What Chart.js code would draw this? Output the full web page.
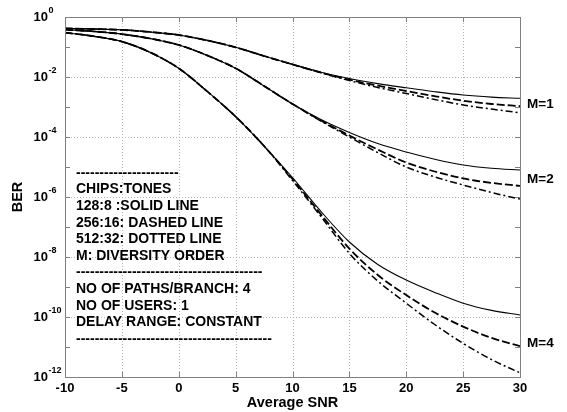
<!DOCTYPE html>
<html>
<head>
<meta charset="utf-8">
<script src="https://cdn.jsdelivr.net/npm/chart.js@4"></script>
<style>
  html, body { margin: 0; padding: 0; background: #fff; }
  #wrap { width: 567px; height: 412px; }
</style>
</head>
<body>
<div id="wrap"><canvas id="ber-chart"></canvas></div>
<script>
// SNR points (dB)
const snr = [-10, -7.5, -5, -2.5, 0, 2.5, 5, 7.5, 10, 12.5, 15, 17.5, 20, 22.5, 25, 27.5, 30];

// M=1
const m1Solid   = [0.417, 0.398, 0.372, 0.316, 0.251, 0.166, 0.0977, 0.0501, 0.0263, 0.0145, 0.00891, 0.00603, 0.00437, 0.00324, 0.00251, 0.00214, 0.00195];
const m1Dashed  = [0.417, 0.398, 0.372, 0.316, 0.251, 0.166, 0.0977, 0.0501, 0.0263, 0.0141, 0.00813, 0.00513, 0.00339, 0.00229, 0.00162, 0.00126, 0.00107];
const m1Dotted  = [0.417, 0.398, 0.372, 0.316, 0.251, 0.166, 0.0977, 0.0501, 0.0263, 0.0138, 0.00759, 0.00447, 0.00282, 0.00178, 0.00117, 0.000851, 0.000646];
// M=2
const m2Solid   = [0.380, 0.331, 0.269, 0.191, 0.117, 0.0525, 0.0195, 0.00501, 0.00126, 3.80e-4, 1.41e-4, 6.03e-5, 3.16e-5, 1.82e-5, 1.17e-5, 9.12e-6, 7.94e-6];
const m2Dashed  = [0.380, 0.331, 0.269, 0.191, 0.117, 0.0525, 0.0195, 0.00501, 0.00126, 3.55e-4, 1.12e-4, 3.80e-5, 1.41e-5, 7.08e-6, 4.17e-6, 2.95e-6, 2.34e-6];
const m2Dotted  = [0.380, 0.331, 0.269, 0.191, 0.117, 0.0525, 0.0195, 0.00501, 0.00126, 3.39e-4, 1.00e-4, 3.02e-5, 1.00e-5, 4.68e-6, 2.51e-6, 1.41e-6, 8.51e-7];
// M=4
const m4Solid   = [0.302, 0.229, 0.151, 0.0661, 0.0195, 0.00331, 4.79e-4, 5.01e-5, 4.47e-6, 3.31e-7, 3.16e-8, 5.62e-9, 1.70e-9, 6.61e-10, 2.88e-10, 1.66e-10, 1.17e-10];
const m4Dashed  = [0.302, 0.229, 0.151, 0.0661, 0.0195, 0.00331, 4.79e-4, 5.01e-5, 3.98e-6, 2.63e-7, 1.91e-8, 2.51e-9, 5.37e-10, 1.41e-10, 4.79e-11, 2.00e-11, 1.07e-11];
const m4Dotted  = [0.302, 0.229, 0.151, 0.0661, 0.0195, 0.00331, 4.79e-4, 5.01e-5, 3.55e-6, 2.24e-7, 1.32e-8, 1.58e-9, 2.88e-10, 5.62e-11, 1.32e-11, 3.80e-12, 1.38e-12];

const xTicks = [-10, -5, 0, 5, 10, 15, 20, 25, 30];
const yTickExps = [0, -1, -2, -3, -4, -5, -6, -7, -8, -9, -10, -11, -12];
const yLabelExps = [0, -2, -4, -6, -8, -10, -12];

const curveLabels = ['M=1', 'M=2', 'M=4'];
const curveLabelAt = [1.2e-3, 4.0e-6, 1.3e-11];

const noteLines = [
    '----------------------',
    'CHIPS:TONES',
    '128:8 :SOLID LINE',
    '256:16: DASHED LINE',
    '512:32: DOTTED LINE',
    'M: DIVERSITY ORDER',
    '----------------------------------------',
    'NO OF PATHS/BRANCH: 4',
    'NO OF USERS: 1',
    'DELAY RANGE: CONSTANT',
    '------------------------------------------'
];

const FONT = '"Liberation Sans", Arial, sans-serif';

function pts(arr) {
    return snr.map((x, i) => ({x: x, y: arr[i]}));
}

function line(arr, dash, width) {
    return {
        data: pts(arr),
        borderColor: '#000',
        borderWidth: width,
        borderDash: dash,
        pointRadius: 0,
        fill: false,
        cubicInterpolationMode: 'monotone'
    };
}

const solidW = 1.1, dashW = 1.8, dotW = 1.5;
const DASH = [8, 3], DOTDASH = [7, 3, 2, 3];

const decorations = {
    id: 'decorations',
    beforeDatasetsDraw(chart) {
        const {ctx, chartArea: a, scales: {x, y}} = chart;
        ctx.save();
        ctx.strokeStyle = '#b4b4b4';
        ctx.lineWidth = 1;
        ctx.setLineDash([1, 2]);
        xTicks.slice(1, -1).forEach((v) => {
            const px = Math.round(x.getPixelForValue(v)) + 0.5;
            ctx.beginPath();
            ctx.moveTo(px, a.top);
            ctx.lineTo(px, a.bottom);
            ctx.stroke();
        });
        yLabelExps.slice(1, -1).forEach((e) => {
            const py = Math.round(y.getPixelForValue(Math.pow(10, e))) + 0.5;
            ctx.beginPath();
            ctx.moveTo(a.left, py);
            ctx.lineTo(a.right, py);
            ctx.stroke();
        });
        ctx.restore();
    },
    afterDatasetsDraw(chart) {
        const {ctx, chartArea: a, scales: {x, y}} = chart;
        ctx.save();
        // frame
        ctx.strokeStyle = '#808080';
        ctx.lineWidth = 1;
        ctx.strokeRect(Math.round(a.left) + 0.5, Math.round(a.top) + 0.5,
            Math.round(a.right - a.left), Math.round(a.bottom - a.top));
        // inward ticks
        const tl = 5;
        ctx.beginPath();
        xTicks.forEach((v) => {
            const px = Math.round(x.getPixelForValue(v)) + 0.5;
            ctx.moveTo(px, a.bottom); ctx.lineTo(px, a.bottom - tl);
            ctx.moveTo(px, a.top); ctx.lineTo(px, a.top + tl);
        });
        yTickExps.forEach((e) => {
            const py = Math.round(y.getPixelForValue(Math.pow(10, e))) + 0.5;
            ctx.moveTo(a.left, py); ctx.lineTo(a.left + tl, py);
            ctx.moveTo(a.right, py); ctx.lineTo(a.right - tl, py);
        });
        ctx.stroke();

        ctx.fillStyle = '#000';
        // x tick labels
        ctx.font = 'bold 13px ' + FONT;
        ctx.textAlign = 'center';
        ctx.textBaseline = 'middle';
        xTicks.forEach((v) => {
            ctx.fillText(String(v), x.getPixelForValue(v), a.bottom + 11);
        });
        // y tick labels 10^e
        yLabelExps.forEach((e) => {
            const py = y.getPixelForValue(Math.pow(10, e));
            ctx.font = 'bold 13px ' + FONT;
            ctx.textAlign = 'right';
            ctx.fillText('10', a.left - 17, py);
            ctx.font = 'bold 9px ' + FONT;
            ctx.textAlign = 'left';
            ctx.fillText(String(e), a.left - 16.5, py - 6.5);
        });
        // axis titles
        ctx.font = 'bold 14.5px ' + FONT;
        ctx.textAlign = 'center';
        ctx.fillText('Average SNR', (a.left + a.right) / 2, a.bottom + 26);
        ctx.save();
        ctx.translate(18, (a.top + a.bottom) / 2);
        ctx.rotate(-Math.PI / 2);
        ctx.fillText('BER', 0, 0);
        ctx.restore();
        // curve labels
        ctx.font = 'bold 13.5px ' + FONT;
        ctx.textAlign = 'left';
        curveLabels.forEach((t, i) => {
            ctx.fillText(t, a.right + 7, y.getPixelForValue(curveLabelAt[i]));
        });
        // notes
        ctx.font = 'bold 14px ' + FONT;
        noteLines.forEach((t, i) => {
            ctx.fillText(t, a.left + 11, a.top + 156 + i * 16.6);
        });
        ctx.restore();
    }
};

new Chart(document.getElementById('ber-chart'), {
    type: 'line',
    data: {
        datasets: [
            line(m1Solid, [], solidW), line(m1Dashed, DASH, dashW), line(m1Dotted, DOTDASH, dotW),
            line(m2Solid, [], solidW), line(m2Dashed, DASH, dashW), line(m2Dotted, DOTDASH, dotW),
            line(m4Solid, [], solidW), line(m4Dashed, DASH, dashW), line(m4Dotted, DOTDASH, dotW)
        ]
    },
    options: {
        responsive: true,
        maintainAspectRatio: false,
        animation: false,
        layout: { padding: { left: 65, right: 47, top: 17, bottom: 35 } },
        plugins: { legend: { display: false }, tooltip: { enabled: false } },
        scales: {
            x: { type: 'linear', min: -10, max: 30, display: false },
            y: { type: 'logarithmic', min: 1e-12, max: 1, display: false }
        }
    },
    plugins: [decorations]
});
</script>
</body>
</html>
